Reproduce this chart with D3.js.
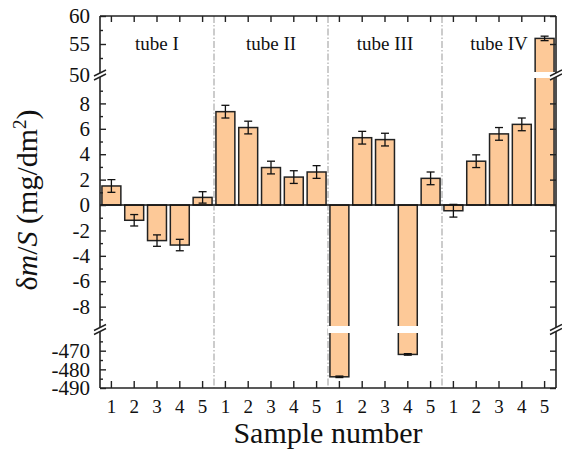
<!DOCTYPE html>
<html lang="en">
<head>
    <meta charset="UTF-8">
    <title>Sample mass change</title>
    <style>
        body { margin: 0; background: #fff; }
    </style>
</head>
<body>
<script src="https://d3js.org/d3.v7.min.js"></script>
<script>
    // data
    var tubes = ["tube I", "tube II", "tube III", "tube IV"];
    var samples = [1, 2, 3, 4, 5];
    var values = [1.5, -1.2, -2.8, -3.15, 0.6,
                  7.35, 6.1, 2.95, 2.2, 2.6,
                  -484, 5.3, 5.15, -472, 2.1,
                  -0.45, 3.45, 5.6, 6.35, 56];
    var errors = [0.5, 0.45, 0.45, 0.45, 0.45,
                  0.5, 0.5, 0.5, 0.5, 0.5,
                  0.4, 0.5, 0.5, 0.4, 0.5,
                  0.5, 0.5, 0.5, 0.5, 0.4];
    var topTicks = [50, 55, 60];
    var midTicks = [-8, -6, -4, -2, 0, 2, 4, 6, 8];
    var botTicks = [-490, -480, -470];

    var SERIF = "Liberation Serif";
    var W = 562, H = 452;
    var pl = 100, pr = 556, pt = 16, pb = 388;

    var svg = d3.select("body").append("svg")
        .attr("width", W).attr("height", H);

    var x = d3.scaleBand()
        .domain(d3.range(values.length))
        .range([pl, pr])
        .paddingInner(0.17)
        .paddingOuter(0.085);

    // three y segments of the broken axis
    var yTop = d3.scaleLinear().domain([50, 60]).range([72, pt]);
    var yMid = d3.scaleLinear().domain([-9.5, 10]).range([325.7, 78]);
    var yBot = d3.scaleLinear().domain([-490, -461]).range([pb, 333.9]);
    var gaps = [[72, 78], [326, 333]];

    function y(v) {
        if (v >= 50) return yTop(v);
        if (v >= -9.5) return yMid(v);
        return yBot(v);
    }

    function useSerif(sel, size) {
        sel.attr("font-family", SERIF)
            .style("font-family", SERIF)
            .style("font-size", size + "px")
            .attr("fill", "#111");
    }

    // group separators
    [5, 10, 15].forEach(function (i) {
        var sx = pl + x.step() * i;
        svg.append("line")
            .attr("x1", sx).attr("x2", sx)
            .attr("y1", pt).attr("y2", pb)
            .attr("stroke", "#999").attr("stroke-width", 1)
            .attr("stroke-dasharray", "7,2,1.5,2");
    });

    // tube labels
    svg.selectAll(".tube").data(tubes).enter().append("text")
        .attr("x", function (d, i) { return pl + x.step() * (i * 5 + 2.5); })
        .attr("y", 50)
        .attr("text-anchor", "middle")
        .text(function (d) { return d; })
        .call(useSerif, 19);

    // bars
    svg.selectAll(".bar").data(values).enter().append("rect")
        .attr("x", function (d, i) { return x(i); })
        .attr("width", x.bandwidth())
        .attr("y", function (d) { return Math.min(y(d), y(0)); })
        .attr("height", function (d) { return Math.abs(y(d) - y(0)); })
        .attr("fill", "#FDC998")
        .attr("stroke", "#222")
        .attr("stroke-width", 1.5);

    // white cut where a bar crosses a break
    values.forEach(function (d, i) {
        gaps.forEach(function (g) {
            var y0 = Math.min(y(d), y(0)), y1 = Math.max(y(d), y(0));
            if (y0 < g[0] && y1 > g[1]) {
                svg.append("rect")
                    .attr("x", x(i) - 2).attr("width", x.bandwidth() + 4)
                    .attr("y", g[0]).attr("height", g[1] - g[0])
                    .attr("fill", "#fff");
            }
        });
    });

    // error bars
    var eb = svg.selectAll(".err").data(values).enter().append("g")
        .attr("stroke", "#111").attr("stroke-width", 1.3);
    eb.append("line")
        .attr("x1", function (d, i) { return x(i) + x.bandwidth() / 2; })
        .attr("x2", function (d, i) { return x(i) + x.bandwidth() / 2; })
        .attr("y1", function (d, i) { return y(d + errors[i]); })
        .attr("y2", function (d, i) { return y(d - errors[i]); });
    [1, -1].forEach(function (s) {
        eb.append("line")
            .attr("x1", function (d, i) { return x(i) + x.bandwidth() / 2 - 4; })
            .attr("x2", function (d, i) { return x(i) + x.bandwidth() / 2 + 4; })
            .attr("y1", function (d, i) { return y(d + s * errors[i]); })
            .attr("y2", function (d, i) { return y(d + s * errors[i]); });
    });

    // zero line
    svg.append("line")
        .attr("x1", pl).attr("x2", pr)
        .attr("y1", y(0)).attr("y2", y(0))
        .attr("stroke", "#111").attr("stroke-width", 1.5);

    // left axis, one per segment, mirrored majors on the right
    function segAxis(scale, major, minor) {
        var g = svg.append("g").attr("transform", "translate(" + pl + ",0)");
        g.call(d3.axisLeft(scale).tickValues(minor).tickSize(-3).tickFormat(""));
        g.select(".domain").remove();
        g.selectAll("line").attr("stroke", "#222").attr("stroke-width", 1.4);
        var g2 = svg.append("g").attr("transform", "translate(" + pl + ",0)");
        g2.call(d3.axisLeft(scale).tickValues(major).tickSize(-6).tickPadding(10)
            .tickFormat(String));
        g2.select(".domain").remove();
        g2.selectAll("text").call(useSerif, 21);
        g2.selectAll("line").attr("stroke", "#222").attr("stroke-width", 1.4);
        var g3 = svg.append("g").attr("transform", "translate(" + pr + ",0)");
        g3.call(d3.axisRight(scale).tickValues(major).tickSize(-6).tickFormat(""));
        g3.select(".domain").remove();
        g3.selectAll("line").attr("stroke", "#222").attr("stroke-width", 1.4);
    }
    segAxis(yTop, topTicks.filter(function (d) { return d > 50; }), [52.5, 57.5]);
    segAxis(yMid, midTicks, [-9, -7, -5, -3, -1, 1, 3, 5, 7, 9]);
    segAxis(yBot, botTicks, [-485, -475, -465]);
    // the 50 label sits on the upper break
    svg.append("text")
        .attr("x", pl - 10).attr("y", 75).attr("dy", "0.32em")
        .attr("text-anchor", "end")
        .text("50")
        .call(useSerif, 21);

    // bottom axis
    var gb = svg.append("g").attr("transform", "translate(0," + pb + ")")
        .call(d3.axisBottom(x).tickSize(-7).tickPadding(12)
            .tickFormat(function (i) { return samples[i % 5]; }));
    gb.select(".domain").remove();
    gb.selectAll("text").call(useSerif, 19);
    gb.selectAll("line").attr("stroke", "#222").attr("stroke-width", 1.4);

    // top axis
    var gt = svg.append("g").attr("transform", "translate(0," + pt + ")")
        .call(d3.axisTop(x).tickSize(-6).tickFormat(""));
    gt.select(".domain").remove();
    gt.selectAll("line").attr("stroke", "#222").attr("stroke-width", 1.4);

    // frame
    var frame = svg.append("g").attr("stroke", "#222").attr("stroke-width", 1.6)
        .attr("fill", "none");
    frame.append("line").attr("x1", pl).attr("x2", pr).attr("y1", pt).attr("y2", pt);
    frame.append("line").attr("x1", pl).attr("x2", pr).attr("y1", pb).attr("y2", pb);
    [pl, pr].forEach(function (ax) {
        frame.append("line").attr("x1", ax).attr("x2", ax).attr("y1", pt).attr("y2", pb);
    });

    // break marks on both vertical axes
    [75, 329.5].forEach(function (yc) {
        [pl, pr].forEach(function (ax) {
            svg.append("polygon")
                .attr("points", [[ax - 6, yc + 1], [ax + 6, yc - 5], [ax + 6, yc - 1], [ax - 6, yc + 5]].join(" "))
                .attr("fill", "#fff");
            [-2, 2].forEach(function (o) {
                svg.append("line")
                    .attr("x1", ax - 6).attr("y1", yc + o + 3)
                    .attr("x2", ax + 6).attr("y2", yc + o - 3)
                    .attr("stroke", "#222").attr("stroke-width", 1.4);
            });
        });
    });

    // axis titles
    svg.append("text")
        .attr("x", (pl + pr) / 2).attr("y", 443)
        .attr("text-anchor", "middle")
        .text("Sample number")
        .call(useSerif, 30);

    var yl = svg.append("text")
        .attr("transform", "translate(37,200) rotate(-90)")
        .attr("text-anchor", "middle")
        .call(useSerif, 30);
    yl.append("tspan").text("δ");
    yl.append("tspan").style("font-style", "italic").text("m");
    yl.append("tspan").text("/");
    yl.append("tspan").style("font-style", "italic").text("S");
    yl.append("tspan").text(" (mg/dm");
    yl.append("tspan").style("font-size", "19px").attr("dy", "-11").text("2");
    yl.append("tspan").attr("dy", "11").text(")");
</script>
</body>
</html>
